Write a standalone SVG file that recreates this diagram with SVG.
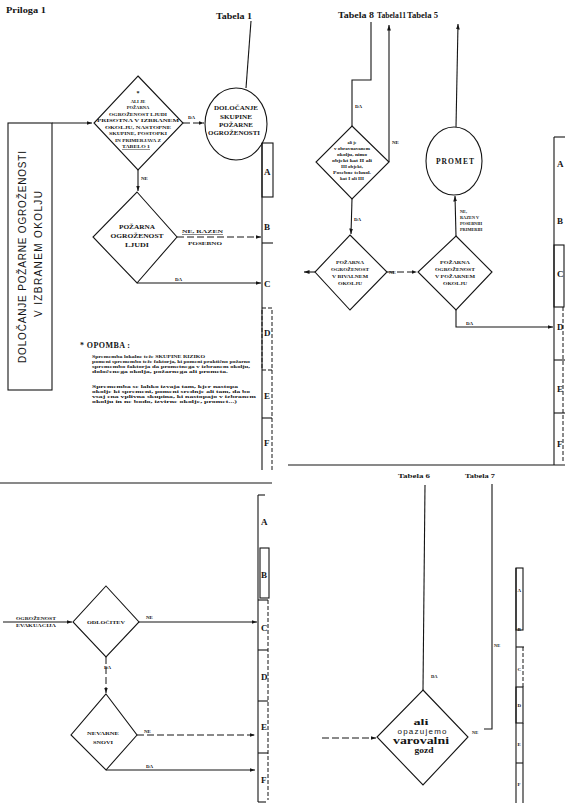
<svg xmlns="http://www.w3.org/2000/svg" width="565" height="803" viewBox="0 0 565 803">
<style>
.ln{stroke:#151515;stroke-width:1.1;fill:none}
.dl{stroke:#151515;stroke-width:1;fill:none;stroke-dasharray:7 3}
.sh{stroke:#151515;stroke-width:1.1;fill:#fff}
.dsh{stroke:#151515;stroke-width:1;fill:none;stroke-dasharray:4 2}
.t{font-family:"Liberation Serif",serif;font-weight:bold;fill:#151515;text-anchor:middle}
.s{font-family:"Liberation Sans",sans-serif;fill:#151515;text-anchor:middle}
.l{font-family:"Liberation Serif",serif;font-weight:bold;fill:#151515}
.tiny{font-size:4.6px}
.lab{font-family:"Liberation Serif",serif;font-weight:bold;fill:#151515;font-size:5px}
.col{font-family:"Liberation Serif",serif;font-weight:bold;fill:#151515;font-size:9px}
</style>
<defs>
<marker id="ah" viewBox="0 0 10 10" refX="10" refY="5" markerWidth="5" markerHeight="5" orient="auto"><path d="M0,1.5 L10,5 L0,8.5z" fill="#151515"/></marker>
</defs>
<rect width="565" height="803" fill="#fff"/>

<text class="l" x="6" y="13" font-size="8" textLength="40" lengthAdjust="spacingAndGlyphs">Priloga 1</text>

<!-- separators -->
<g id="separators">
<line class="ln" x1="0" y1="483" x2="272" y2="483"/>
<line class="ln" x1="288" y1="465" x2="565" y2="465"/>
</g>

<!-- ============ TOP LEFT ============ -->
<g id="title-box">
<rect class="sh" x="8" y="123" width="44" height="267"/>
<text class="s" font-size="10" transform="rotate(-90 26 257)" x="26" y="257" textLength="212" lengthAdjust="spacing">DOLOČANJE POŽARNE OGROŽENOSTI</text>
<text class="s" font-size="10" transform="rotate(-90 42 254)" x="42" y="254" textLength="126" lengthAdjust="spacing">V IZBRANEM OKOLJU</text>
</g>

<g id="tabela1">
<text class="l" x="216" y="19" font-size="8.5" textLength="36" lengthAdjust="spacingAndGlyphs">Tabela 1</text>
</g>

<g id="d1">
<polygon class="sh" points="138,76 183,123 138,170 94,123"/>
<text class="t" font-size="6" x="138" y="95">*</text>
<text class="t tiny" x="138" y="103">ALI JE</text>
<text class="t tiny" x="138" y="109">POŽARNA</text>
<text class="t tiny" x="138" y="116" textLength="58" lengthAdjust="spacingAndGlyphs">OGROŽENOST LJUDI</text>
<text class="t tiny" x="138" y="122" textLength="82" lengthAdjust="spacingAndGlyphs">PRISOTNA V IZBRANEM</text>
<text class="t tiny" x="138" y="129" textLength="66" lengthAdjust="spacingAndGlyphs">OKOLJU, NASTOPNE</text>
<text class="t tiny" x="138" y="135" textLength="58" lengthAdjust="spacingAndGlyphs">SKUPINE, POSTOPKI</text>
<text class="t tiny" x="138" y="142" textLength="46" lengthAdjust="spacingAndGlyphs">IN PRIMERJAVA Z</text>
<text class="t tiny" x="136" y="148" textLength="28" lengthAdjust="spacingAndGlyphs" text-decoration="underline">TABELO 1</text>
</g>

<g id="c1">
<ellipse class="sh" cx="236" cy="124" rx="31" ry="36"/>
<text class="t" font-size="5.6" x="236" y="110" textLength="44" lengthAdjust="spacingAndGlyphs">DOLOČANJE</text>
<text class="t" font-size="5.6" x="236" y="119" textLength="32" lengthAdjust="spacingAndGlyphs">SKUPINE</text>
<text class="t" font-size="5.6" x="236" y="127" textLength="34" lengthAdjust="spacingAndGlyphs">POŽARNE</text>
<text class="t" font-size="5.6" x="234" y="135" textLength="52" lengthAdjust="spacingAndGlyphs">OGROŽENOSTI</text>
</g>

<g id="d2">
<polygon class="sh" points="137,192 177,237 137,283 93,237"/>
<text class="t" font-size="6.5" x="137" y="229" textLength="36" lengthAdjust="spacingAndGlyphs">POŽARNA</text>
<text class="t" font-size="6.5" x="137" y="238" textLength="53" lengthAdjust="spacingAndGlyphs">OGROŽENOST</text>
<text class="t" font-size="6.5" x="137" y="247" textLength="24" lengthAdjust="spacingAndGlyphs">LJUDI</text>
</g>

<g id="note">
<text class="l" x="80" y="348" font-size="8" textLength="50" lengthAdjust="spacing">* OPOMBA :</text>
<g class="l" font-size="4.4">
<text x="92" y="358" textLength="113" lengthAdjust="spacingAndGlyphs">Sprememba lokalne teže SKUPINE RIZIKO</text>
<text x="92" y="363" textLength="158" lengthAdjust="spacingAndGlyphs">pomeni spremembo teže faktorja, ki pomeni praktično požarno</text>
<text x="92" y="368" textLength="158" lengthAdjust="spacingAndGlyphs">spremembo faktorja da prometnega v izbranem okolju,</text>
<text x="92" y="373" textLength="136" lengthAdjust="spacingAndGlyphs">določenega okolja, požarnega ali prometa.</text>
<text x="92" y="388" textLength="146" lengthAdjust="spacingAndGlyphs">Sprememba se lahko izvaja tam, kjer nastopa</text>
<text x="92" y="393" textLength="158" lengthAdjust="spacingAndGlyphs">okolje ki spremeni, pomeni srednje ali tam, da bo</text>
<text x="92" y="398" textLength="164" lengthAdjust="spacingAndGlyphs">vsaj ena vplivna skupina, ki nastopajo v izbranem</text>
<text x="92" y="403" textLength="145" lengthAdjust="spacingAndGlyphs">okolju in ne bodo, izvirne okolje, promet...)</text>
</g>
</g>

<g id="col-tl">
<line class="ln" x1="262" y1="143" x2="262" y2="470" stroke-width="1.6"/>
<rect class="ln" x="262" y="143" width="11" height="54"/>
<line class="ln" x1="262" y1="243" x2="273" y2="243"/>
<rect class="dsh" x="262" y="308" width="10" height="62"/>
<line class="ln" x1="262" y1="418" x2="272" y2="418"/>
<line class="dsh" x1="272" y1="370" x2="272" y2="470"/>
<text class="col" x="264" y="175">A</text>
<text class="col" x="264" y="230">B</text>
<text class="col" x="264" y="287">C</text>
<text class="col" x="264" y="336">D</text>
<text class="col" x="264" y="399">E</text>
<text class="col" x="264" y="446">F</text>
</g>

<!-- ============ TOP RIGHT ============ -->
<g id="tabele-tr">
<text class="l" x="338" y="18" font-size="8" textLength="36" lengthAdjust="spacingAndGlyphs">Tabela 8</text>
<text class="l" x="377" y="18" font-size="8" textLength="29" lengthAdjust="spacingAndGlyphs">Tabela11</text>
<text class="l" x="407" y="18" font-size="8" textLength="31" lengthAdjust="spacingAndGlyphs">Tabela 5</text>
</g>

<g id="d3">
<polygon class="sh" points="352,126 389,162 352,199 316,162"/>
<g class="t" font-size="4.3">
<text x="352" y="144">ali je</text>
<text x="352" y="150" textLength="36" lengthAdjust="spacingAndGlyphs">v obravnavanem</text>
<text x="352" y="156" textLength="30" lengthAdjust="spacingAndGlyphs">okolju, nimo</text>
<text x="352" y="162" textLength="40" lengthAdjust="spacingAndGlyphs">objekt kat II ali</text>
<text x="352" y="168" textLength="22" lengthAdjust="spacingAndGlyphs">III objekt,</text>
<text x="352" y="174" textLength="38" lengthAdjust="spacingAndGlyphs">Posebne tehnol.</text>
<text x="352" y="180" textLength="24" lengthAdjust="spacingAndGlyphs">kat I ali III</text>
</g>
</g>

<g id="c2">
<ellipse class="sh" cx="454" cy="161" rx="28" ry="34"/>
<text class="t" font-size="7.5" x="455" y="164" textLength="38" lengthAdjust="spacing">PROMET</text>
</g>

<g id="d4">
<polygon class="sh" points="350,235 387,272 350,310 315,272"/>
<g class="t" font-size="4.8">
<text x="350" y="264" textLength="28" lengthAdjust="spacingAndGlyphs">POŽARNA</text>
<text x="350" y="271" textLength="38" lengthAdjust="spacingAndGlyphs">OGROŽENOST</text>
<text x="350" y="278" textLength="36" lengthAdjust="spacingAndGlyphs">V BIVALNEM</text>
<text x="350" y="285" textLength="24" lengthAdjust="spacingAndGlyphs">OKOLJU</text>
</g>
</g>

<g id="d5">
<polygon class="sh" points="456,236 492,272 456,310 418,272"/>
<g class="t" font-size="4.8">
<text x="455" y="264" textLength="30" lengthAdjust="spacingAndGlyphs">POŽARNA</text>
<text x="455" y="271" textLength="40" lengthAdjust="spacingAndGlyphs">OGROŽENOST</text>
<text x="455" y="278" textLength="40" lengthAdjust="spacingAndGlyphs">V POŽARNEM</text>
<text x="455" y="285" textLength="24" lengthAdjust="spacingAndGlyphs">OKOLJU</text>
</g>
</g>

<g id="col-tr">
<line class="ln" x1="554" y1="137" x2="554" y2="465" stroke-width="1.6"/>
<line class="ln" x1="554" y1="137" x2="565" y2="137"/>
<rect class="ln" x="554" y="245" width="10" height="62"/>
<line class="ln" x1="554" y1="360" x2="565" y2="360"/>
<line class="ln" x1="554" y1="413" x2="565" y2="413"/>
<line class="dsh" x1="563" y1="307" x2="563" y2="462"/>
<text class="col" x="557" y="167">A</text>
<text class="col" x="557" y="224">B</text>
<text class="col" x="557" y="277">C</text>
<text class="col" x="557" y="330">D</text>
<text class="col" x="557" y="392">E</text>
<text class="col" x="557" y="447">F</text>
</g>

<!-- ============ BOTTOM LEFT ============ -->
<g id="d6">
<polygon class="sh" points="106,586 139,622 106,657 73,622"/>
<text class="t" font-size="5" x="106" y="624" textLength="38" lengthAdjust="spacingAndGlyphs">ODLOČITEV</text>
</g>

<g id="d7">
<polygon class="sh" points="106,694 137,735 106,770 71,735"/>
<text class="t" font-size="5" x="103" y="735" textLength="32" lengthAdjust="spacingAndGlyphs">NEVARNE</text>
<text class="t" font-size="5" x="103" y="744" textLength="20" lengthAdjust="spacingAndGlyphs">SNOVI</text>
</g>

<g id="col-bl">
<line class="ln" x1="258" y1="495" x2="258" y2="802" stroke-width="1.6"/>
<line class="ln" x1="258" y1="495" x2="265" y2="495"/>
<rect class="ln" x="260" y="548" width="9" height="50"/>
<line class="ln" x1="258" y1="600" x2="268" y2="600"/>
<line class="ln" x1="258" y1="650" x2="268" y2="650"/>
<line class="ln" x1="258" y1="701" x2="268" y2="701"/>
<line class="ln" x1="258" y1="753" x2="268" y2="753"/>
<line class="ln" x1="258" y1="802" x2="266" y2="802"/>
<line class="dsh" x1="268" y1="600" x2="268" y2="800"/>
<text class="col" x="261" y="525" font-size="8">A</text>
<text class="col" x="261" y="578" font-size="8">B</text>
<text class="col" x="261" y="631" font-size="8">C</text>
<text class="col" x="261" y="680" font-size="8">D</text>
<text class="col" x="261" y="730" font-size="8">E</text>
<text class="col" x="261" y="783" font-size="8">F</text>
</g>

<!-- ============ BOTTOM RIGHT ============ -->
<g id="tabele-br">
<text class="l" x="398" y="478" font-size="6.5" textLength="32" lengthAdjust="spacingAndGlyphs">Tabela 6</text>
<text class="l" x="465" y="478" font-size="6.5" textLength="30" lengthAdjust="spacingAndGlyphs">Tabela 7</text>
</g>

<g id="d8">
<polygon class="sh" points="423,690 468,737 423,785 377,737"/>
<text class="t" font-size="9" x="421" y="725" textLength="15" lengthAdjust="spacingAndGlyphs">ali</text>
<text class="s" font-size="8" x="422" y="734" textLength="49" lengthAdjust="spacing">opazujemo</text>
<text class="t" font-size="10.5" x="421" y="744" textLength="56" lengthAdjust="spacingAndGlyphs">varovalni</text>
<text class="t" font-size="9" x="424" y="753" textLength="19" lengthAdjust="spacingAndGlyphs">gozd</text>
</g>

<g id="col-br">
<line class="ln" x1="516" y1="568" x2="516" y2="803" stroke-width="1.4"/>
<rect class="ln" x="516" y="568" width="7" height="62"/>
<line class="ln" x1="516" y1="647" x2="524" y2="647"/>
<line class="dsh" x1="523" y1="647" x2="523" y2="687"/>
<rect class="ln" x="516" y="687" width="7" height="36"/>
<line class="ln" x1="516" y1="763" x2="523" y2="763"/>
<line class="ln" x1="523" y1="723" x2="523" y2="803"/>
<text class="lab" x="517.5" y="592">A</text>
<text class="lab" x="517.5" y="631">B</text>
<text class="lab" x="517.5" y="671">C</text>
<text class="lab" x="517.5" y="707">D</text>
<text class="lab" x="517.5" y="746">E</text>
<text class="lab" x="517.5" y="786">F</text>
</g>

<!-- ============ CONNECTORS ============ -->
<g id="connectors">
<path class="ln" d="M251,21 L246,88"/>
<path class="ln" d="M52,123 L92,123" marker-end="url(#ah)"/>
<path class="dl" d="M183,123 L204,123" marker-end="url(#ah)"/>
<path class="ln" d="M138,170 L138,191" marker-end="url(#ah)"/>
<path class="dl" d="M177,237 L261,237" marker-end="url(#ah)"/>
<path class="ln" d="M137,283 L261,283" marker-end="url(#ah)"/>

<path class="ln" d="M371,22 L371,80 L352,80 L352,126"/>
<path class="ln" d="M389,162 L389,25" marker-end="url(#ah)"/>
<path class="ln" d="M352,199 L351,234" marker-end="url(#ah)"/>
<path class="ln" d="M315,272 L304,272" marker-end="url(#ah)"/>
<path class="dl" d="M387,272 L417,272" marker-end="url(#ah)"/>
<path class="ln" d="M456,127 L458,24" marker-end="url(#ah)"/>
<path class="ln" d="M456,236 L455,196" marker-end="url(#ah)"/>
<path class="ln" d="M456,310 L456,327 L553,327" marker-end="url(#ah)"/>

<path class="ln" d="M3,622 L72,622" marker-end="url(#ah)"/>
<path class="ln" d="M139,622 L257,622" marker-end="url(#ah)"/>
<path class="dl" d="M106,657 L106,693" marker-end="url(#ah)"/>
<path class="dl" d="M137,735 L255,735" marker-end="url(#ah)"/>
<path class="ln" d="M106,770 L255,770" marker-end="url(#ah)"/>

<path class="ln" d="M425,485 L423,690"/>
<path class="ln" d="M492,484 L492,729 L484,729"/>
<path class="dl" d="M322,738 L376,738" marker-end="url(#ah)"/>
</g>

<g id="connector-labels" class="l" font-size="5">
<text x="188" y="119">DA</text>
<text x="141" y="180">NE</text>
<text x="182" y="233" textLength="41" lengthAdjust="spacingAndGlyphs" text-decoration="underline">NE, RAZEN</text>
<text x="188" y="245" textLength="34" lengthAdjust="spacingAndGlyphs">POSEBNO</text>
<text x="175" y="281">DA</text>

<text x="355" y="108">DA</text>
<text x="392" y="144">NE</text>
<text x="354" y="221">DA</text>
<text x="389" y="274">NE</text>
<text x="460" y="213" font-size="4.3">NE,</text>
<text x="460" y="219" font-size="4.3">RAZEN V</text>
<text x="460" y="225" font-size="4.3">POSEBNIH</text>
<text x="460" y="231" font-size="4.3">PRIMERIH</text>
<text x="466" y="325">DA</text>

<text x="16" y="620" font-size="4.6" textLength="40" lengthAdjust="spacingAndGlyphs">OGROŽENOST</text>
<text x="16" y="627" font-size="4.6" textLength="40" lengthAdjust="spacingAndGlyphs">EVAKUACIJA</text>
<text x="146" y="619">NE</text>
<text x="104" y="669">DA</text>
<text x="144" y="733">NE</text>
<text x="146" y="768">DA</text>

<text x="431" y="678" font-size="4.5">DA</text>
<text x="494" y="647" font-size="4.5">NE</text>
<text x="472" y="734" font-size="4.5">NE</text>
</g>
</svg>
